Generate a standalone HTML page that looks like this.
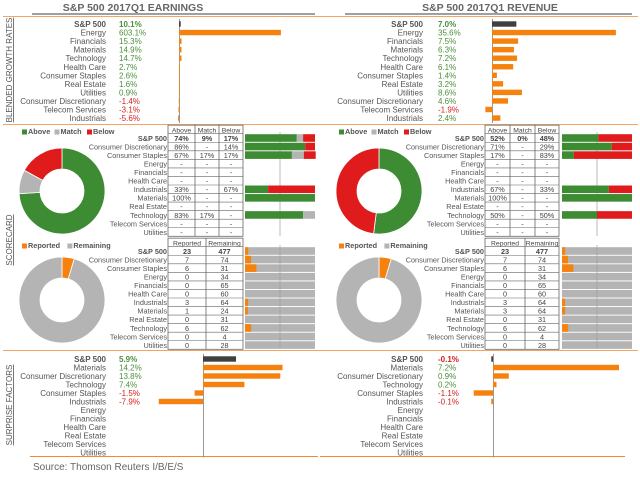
<!DOCTYPE html>
<html><head><meta charset="utf-8">
<style>
html,body{margin:0;padding:0;background:#fff;}
svg{display:block;font-family:"Liberation Sans",sans-serif;}
</style></head>
<body>
<svg id="c" width="640" height="477" viewBox="0 0 640 477">
  <text x="133" y="11" text-anchor="middle" font-size="10.5" font-weight="bold" fill="#666">S&amp;P 500 2017Q1 EARNINGS</text>
  <text x="490" y="11" text-anchor="middle" font-size="10.5" font-weight="bold" fill="#666">S&amp;P 500 2017Q1 REVENUE</text>
  <line x1="32" y1="14" x2="315" y2="14" stroke="#666" stroke-width="1.2"/>
  <line x1="345" y1="14" x2="632" y2="14" stroke="#666" stroke-width="1.2"/>
  <line x1="3" y1="16.5" x2="638" y2="16.5" stroke="#f4a460" stroke-width="1"/>
  <line x1="3" y1="124.5" x2="638" y2="124.5" stroke="#f4a460" stroke-width="1"/>
  <line x1="3" y1="350.5" x2="638" y2="350.5" stroke="#f4a460" stroke-width="1"/>
  <line x1="30" y1="456.5" x2="318" y2="456.5" stroke="#f08a2a" stroke-width="1"/>
  <line x1="320" y1="456.5" x2="625" y2="456.5" stroke="#f08a2a" stroke-width="1"/>
  <text transform="translate(12,70) rotate(-90)" text-anchor="middle" font-size="8" fill="#555" text-decoration="underline">BLENDED GROWTH RATES</text>
  <text transform="translate(12,240) rotate(-90)" text-anchor="middle" font-size="8" fill="#555" text-decoration="underline">SCORECARD</text>
  <text transform="translate(12,405) rotate(-90)" text-anchor="middle" font-size="8" fill="#555" text-decoration="underline">SURPRISE FACTORS</text>
  <text x="33" y="470" font-size="10" fill="#666">Source: Thomson Reuters I/B/E/S</text>
  <g id="g"></g>
</svg>
<script>
const growthCats=["S&P 500","Energy","Financials","Materials","Technology","Health Care","Consumer Staples","Real Estate","Utilities","Consumer Discretionary","Telecom Services","Industrials"];
const earnGrowth=[10.1,603.1,15.3,14.9,14.7,2.7,2.6,1.6,0.9,-1.4,-3.1,-5.6];
const revCats=["S&P 500","Energy","Financials","Materials","Technology","Health Care","Consumer Staples","Real Estate","Utilities","Consumer Discretionary","Telecom Services","Industrials"];
const revGrowth=[7.0,35.6,7.5,6.3,7.2,6.1,1.4,3.2,8.6,4.6,-1.9,2.4];
const scoreCats=["S&P 500","Consumer Discretionary","Consumer Staples","Energy","Financials","Health Care","Industrials","Materials","Real Estate","Technology","Telecom Services","Utilities"];
const earnAbove=[74,86,67,null,null,null,33,100,null,83,null,null];
const earnMatch=[9,null,17,null,null,null,null,null,null,17,null,null];
const earnBelow=[17,14,17,null,null,null,67,null,null,null,null,null];
const revAbove=[52,71,17,null,null,null,67,100,null,50,null,null];
const revMatch=[0,null,null,null,null,null,null,null,null,null,null,null];
const revBelow=[48,29,83,null,null,null,33,null,null,50,null,null];
const earnReported=[23,7,6,0,0,0,3,1,0,6,0,0];
const earnRemaining=[477,74,31,34,65,60,64,24,31,62,4,28];
const revReported=[23,7,6,0,0,0,3,3,0,6,0,0];
const revRemaining=[477,74,31,34,65,60,64,64,31,62,4,28];
const surpCats=["S&P 500","Materials","Consumer Discretionary","Technology","Consumer Staples","Industrials","Energy","Financials","Health Care","Real Estate","Telecom Services","Utilities"];
const earnSurprise=[5.9,14.2,13.8,7.4,-1.5,-7.9,null,null,null,null,null,null];
const revSurprise=[-0.1,7.2,0.9,0.2,-1.1,-0.1,null,null,null,null,null,null];

const NS="http://www.w3.org/2000/svg";
const G=document.getElementById('g');
const OR="#f5820f",GR="#3d8b32",RD="#e01b1b",GY="#b4b4b4",DK="#404040";
function mk(t,a,txt){const e=document.createElementNS(NS,t);for(const k in a)e.setAttribute(k,a[k]);if(txt!==undefined)e.textContent=txt;G.appendChild(e);return e;}
function fmt(v){return v.toFixed(1)+"%";}

function growth(cats,vals,labX,valX,axX,scale,y0,step,pre){
  const xs=v=>axX+v*scale;
  mk('line',{x1:axX+0.5,y1:y0-5,x2:axX+0.5,y2:y0+step*(cats.length-1)+5,stroke:"#999","stroke-width":1});
  cats.forEach((c,i)=>{
    const y=y0+i*step;
    const l=mk('text',{x:labX,y:y+3,"text-anchor":"end","font-size":8,fill:"#555","font-weight":i==0?"bold":"normal"},c);
    
    
    const v=vals[i];
    if(v===null)return;
    const t=mk('text',{x:valX,y:y+3,"font-size":8,fill:v<0?"#d42020":"#4a8f3a","font-weight":i==0?"bold":"normal"},fmt(v));
    
    
    const x0=Math.min(xs(0),xs(v)),w=Math.max(Math.abs(xs(v)-xs(0)),1);
    const b=mk('rect',{x:x0,y:y-2.7,width:w,height:5.4,fill:i==0?DK:OR});
    
    
  });
}
growth(growthCats,earnGrowth,106,119,179,0.169,24,8.55,'earnings-growth');
growth(revCats,revGrowth,423,438,492,3.48,24,8.55,'revenue-growth');
growth(surpCats,earnSurprise,106,119,203,5.6,359,8.5,'earnings-surprise');
growth(surpCats,revSurprise,423,438,493,17.5,359,8.5,'revenue-surprise');

function arc(cx,cy,r1,r2,a0,a1,fill,name){
  if(a1-a0<=0)return;
  if(a1-a0>=0.9999){a1=a0+0.99999;}
  const p=(r,a)=>[cx+r*Math.sin(a*2*Math.PI),cy-r*Math.cos(a*2*Math.PI)];
  const lg=(a1-a0)>0.5?1:0;
  const [x1,y1]=p(r1,a0),[x2,y2]=p(r1,a1),[x3,y3]=p(r2,a1),[x4,y4]=p(r2,a0);
  const e=mk('path',{d:`M${x1},${y1}A${r1},${r1} 0 ${lg} 1 ${x2},${y2}L${x3},${y3}A${r2},${r2} 0 ${lg} 0 ${x4},${y4}Z`,fill:fill,stroke:"#fff","stroke-width":0.8});
  
  
}
function legend(x,y,items){
  let cx=x;
  items.forEach(([t,c])=>{
    mk('rect',{x:cx,y:y-4.5,width:5,height:5,fill:c});
    const e=mk('text',{x:cx+6,y:y,"font-size":7.3,fill:"#555","font-weight":"bold"},t);
    
    
    cx+=6+t.length*4.3+5;
  });
}
function cellTxt(v){return v===null?"-":(v+"%");}
function scorecard(cx,cy,tx,cols,A,M,B,bx,bw,lineX,labX,pre){
  legend(cx-40,134,[["Above",GR],["Match",GY],["Below",RD]]);
  const a=A[0]/100,m=M[0]/100,b=B[0]/100;
  arc(cx,cy,43,22,0,a,GR,pre+'-donut-above');
  arc(cx,cy,43,22,a,a+m,GY,pre+'-donut-match');
  arc(cx,cy,43,22,a+m,a+m+b,RD,pre+'-donut-below');
  const y0=138,st=8.55;
  const hd=["Above","Match","Below"];
  mk('rect',{x:tx[0],y:y0-st-4.3,width:tx[3]-tx[0],height:st*13,fill:"none",stroke:"#666","stroke-width":0.8});
  for(let k=0;k<3;k++){
    mk('text',{x:(tx[k]+tx[k+1])/2,y:y0-st+2.8,"text-anchor":"middle","font-size":6.8,fill:"#444"},hd[k]);
    if(k>0)mk('line',{x1:tx[k],y1:y0-st-4.3,x2:tx[k],y2:y0+st*11+4.3,stroke:"#666","stroke-width":0.8});
  }
  mk('line',{x1:lineX,y1:y0-6,x2:lineX,y2:y0+st*11+4,stroke:"#aaa","stroke-width":0.8});
  scoreCats.forEach((c,i)=>{
    const y=y0+i*st;
    mk('line',{x1:tx[0],y1:y-4.3,x2:tx[3],y2:y-4.3,stroke:"#666","stroke-width":0.6});
    const l=mk('text',{x:labX,y:y+2.8,"text-anchor":"end","font-size":7.3,fill:"#555","font-weight":i==0?"bold":"normal"},c);
    
    
    [A,M,B].forEach((arr,k)=>{
      mk('text',{x:(tx[k]+tx[k+1])/2,y:y+2.8,"text-anchor":"middle","font-size":7.3,fill:"#444","font-weight":i==0?"bold":"normal"},cellTxt(arr[i]));
    });
    if(A[i]===null&&B[i]===null)return;
    let x=bx;
    [[A[i],GR,'above'],[M[i],GY,'match'],[B[i],RD,'below']].forEach(([v,col,n])=>{
      if(!v)return;
      const w=v/100*bw;
      const r=mk('rect',{x:x,y:y-3.8,width:w,height:7.6,fill:col});
      
      
      x+=w;
    });
  });
}
scorecard(62,191,[168,195,219,243],3,earnAbove,earnMatch,earnBelow,245,70,280,167,'earnings-scorecard');
scorecard(379,191,[485,510,535,559],3,revAbove,revMatch,revBelow,562,70,597,484,'revenue-scorecard');

function reported(cx,cy,tx,R,Rm,bx,bw,lineX,labX,pre){
  legend(cx-40,248,[["Reported",OR],["Remaining",GY]]);
  const tot=R[0]+Rm[0],f=R[0]/tot;
  arc(cx,cy,43,22,0,f,OR,pre+'-donut-reported');
  arc(cx,cy,43,22,f,1,GY,pre+'-donut-remaining');
  const y0=251,st=8.55;
  mk('rect',{x:tx[0],y:y0-st-4.3,width:tx[2]-tx[0],height:st*13,fill:"none",stroke:"#666","stroke-width":0.8});
  mk('line',{x1:tx[1],y1:y0-st-4.3,x2:tx[1],y2:y0+st*11+4.3,stroke:"#666","stroke-width":0.8});
  mk('text',{x:(tx[0]+tx[1])/2,y:y0-st+2.8,"text-anchor":"middle","font-size":6.8,fill:"#444"},"Reported");
  mk('text',{x:(tx[1]+tx[2])/2,y:y0-st+2.8,"text-anchor":"middle","font-size":6.8,fill:"#444"},"Remaining");
  scoreCats.forEach((c,i)=>{
    const y=y0+i*st;
    mk('line',{x1:tx[0],y1:y-4.3,x2:tx[2],y2:y-4.3,stroke:"#666","stroke-width":0.6});
    const l=mk('text',{x:labX,y:y+2.8,"text-anchor":"end","font-size":7.3,fill:"#555","font-weight":i==0?"bold":"normal"},c);
    
    
    mk('text',{x:(tx[0]+tx[1])/2,y:y+2.8,"text-anchor":"middle","font-size":7.3,fill:"#444","font-weight":i==0?"bold":"normal"},R[i]);
    mk('text',{x:(tx[1]+tx[2])/2,y:y+2.8,"text-anchor":"middle","font-size":7.3,fill:"#444","font-weight":i==0?"bold":"normal"},Rm[i]);
    const t=R[i]+Rm[i],w=R[i]/t*bw;
    const g=mk('rect',{x:bx,y:y-3.8,width:bw,height:7.6,fill:GY});
    
    
    if(w>0){const r=mk('rect',{x:bx,y:y-3.8,width:w,height:7.6,fill:OR});
      
      }
  });
  mk('line',{x1:lineX,y1:y0-6,x2:lineX,y2:y0+st*11+4,stroke:"#999","stroke-width":0.6});
}
reported(62,300,[168,206,243],earnReported,earnRemaining,245,70,280,167,'earnings-reported');
reported(379,300,[485,525,559],revReported,revRemaining,562,70,597,484,'revenue-reported');
</script>
</body></html>
